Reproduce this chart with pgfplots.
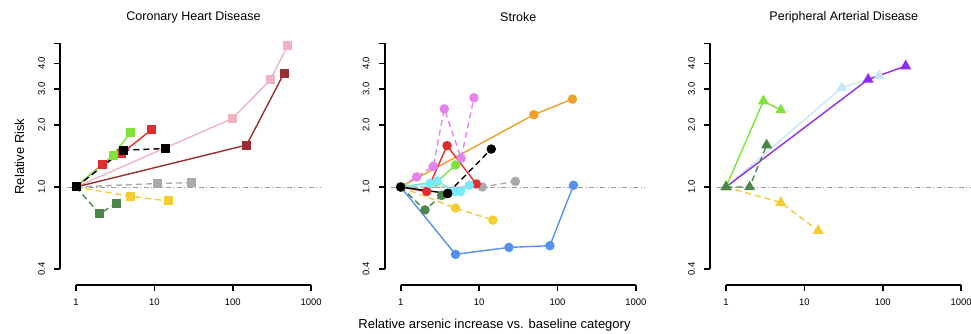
\documentclass[border=0pt]{standalone}
\usepackage{pgfplots}
\pgfplotsset{compat=1.18}
\usepackage{fontspec}
\setmainfont{Liberation Sans}
\definecolor{cpink}{RGB}{240,180,192}
\definecolor{cbrown}{RGB}{155,45,48}
\definecolor{cgreen}{RGB}{125,228,55}
\definecolor{cred}{RGB}{225,45,45}
\definecolor{cgray}{RGB}{170,170,170}
\definecolor{cyellow}{RGB}{245,205,50}
\definecolor{cdgreen}{RGB}{75,135,75}
\definecolor{corange}{RGB}{238,160,40}
\definecolor{cblue}{RGB}{85,145,240}
\definecolor{cviolet}{RGB}{230,130,235}
\definecolor{ccyan}{RGB}{120,235,255}
\definecolor{clblue}{RGB}{200,230,250}
\definecolor{cpurple}{RGB}{145,44,238}
\newcommand\fs{\fontsize{9.5}{11}\selectfont}
% frame of one panel, origin = pixel position of x=1
\newcommand\raxesat[1]{%
 \begin{scope}[xshift=#1pt, line width=1.6pt]
 \draw (-16pt,64.27pt) -- (-16pt,289.57pt);
 \draw (-16pt,64.27pt) -- ++(-6pt,0);
 \draw (-16pt,146pt) -- ++(-6pt,0);
 \draw (-16pt,207.83pt) -- ++(-6pt,0);
 \draw (-16pt,244pt) -- ++(-6pt,0);
 \draw (-16pt,269.66pt) -- ++(-6pt,0);
 \draw (-16pt,289.57pt) -- ++(-6pt,0);
 \node[rotate=90,font=\fs,inner sep=0pt] at (-34.5pt,64.27pt) {0.4};
 \node[rotate=90,font=\fs,inner sep=0pt] at (-34.5pt,146pt) {1.0};
 \node[rotate=90,font=\fs,inner sep=0pt] at (-34.5pt,207.83pt) {2.0};
 \node[rotate=90,font=\fs,inner sep=0pt] at (-34.5pt,244pt) {3.0};
 \node[rotate=90,font=\fs,inner sep=0pt] at (-34.5pt,269.66pt) {4.0};
 \draw (0pt,48.3pt) -- (235.2pt,48.3pt);
 \draw (0pt,48.3pt) -- ++(0,-6pt);
 \draw (78.4pt,48.3pt) -- ++(0,-6pt);
 \draw (156.8pt,48.3pt) -- ++(0,-6pt);
 \draw (235.2pt,48.3pt) -- ++(0,-6pt);
 \node[font=\fs,inner sep=0pt] at (0pt,30.8pt) {1};
 \node[font=\fs,inner sep=0pt] at (78.4pt,30.8pt) {10};
 \node[font=\fs,inner sep=0pt] at (156.8pt,30.8pt) {100};
 \node[font=\fs,inner sep=0pt] at (235.2pt,30.8pt) {1000};
 \end{scope}
}
\pgfplotsset{
 myref/.style={draw=gray!80, line width=0.8pt, dash pattern=on 5pt off 2.5pt on 1pt off 2.5pt, no marks},
 mysl/.style={line width=1.4pt, solid},
 mydl/.style={line width=1.4pt, dash pattern=on 6pt off 4pt},
 mysq/.style={mark=square*, mark size=3.8pt, mark options={solid, fill=#1, draw=#1}},
 myci/.style={mark=*, mark size=4pt, mark options={solid, fill=#1, draw=#1}},
 mytr/.style={mark=triangle*, mark size=5pt, mark options={solid, fill=#1, draw=#1}},
}
\begin{document}
\begin{tikzpicture}
\path[use as bounding box] (0,0) rectangle (971pt,333pt);
\raxesat{76}
\raxesat{400.7}
\raxesat{726}
% Panel 1
\begin{axis}[xmode=log, ymode=log, xmin=1, xmax=1000, ymin=0.4, ymax=5,
  scale only axis, width=235.2pt, height=225.3pt, hide axis, clip=false, anchor=south west, at={(76pt,64.27pt)}]
\addplot[myref] coordinates {(0.7586,1) (1318,1)};
\addplot[mysl, cpink, mysq=cpink] coordinates {(1,1) (100,2.16) (300,3.32) (500,4.87)};
\addplot[mysl, cbrown, mysq=cbrown] coordinates {(1,1) (150,1.6) (450,3.58)};
\addplot[mydl, cgray, mysq=cgray] coordinates {(1,1) (11,1.04) (30,1.05)};
\addplot[mydl, cyellow, mysq=cyellow] coordinates {(1,1) (5,0.9) (15,0.855)};
\addplot[mydl, cdgreen, mysq=cdgreen] coordinates {(1,1) (2,0.74) (3.3,0.835)};
\addplot[mysl, cred, mysq=cred] coordinates {(1,1) (2.17,1.29) (3.83,1.46) (9.2,1.9)};
\addplot[mysl, cgreen, mysq=cgreen] coordinates {(1,1) (3,1.43) (5,1.85)};
\addplot[mydl, black, mysq=black] coordinates {(1,1) (4,1.51) (14,1.54)};
\end{axis}
% Panel 2
\begin{axis}[xmode=log, ymode=log, xmin=1, xmax=1000, ymin=0.4, ymax=5,
  scale only axis, width=235.2pt, height=225.3pt, hide axis, clip=false, anchor=south west, at={(400.7pt,64.27pt)}]
\addplot[myref] coordinates {(0.7586,1) (1318,1)};
\addplot[mysl, corange, myci=corange] coordinates {(1,1) (50,2.25) (155,2.68)};
\addplot[mysl, cblue, myci=cblue] coordinates {(1,1) (5,0.47) (24,0.508) (80,0.518) (160,1.02)};
\addplot[mydl, cviolet, myci=cviolet] coordinates {(1,1) (1.6,1.12) (2.6,1.26) (3.6,2.4) (5.9,1.38) (8.6,2.72)};
\addplot[mydl, cgray, myci=cgray] coordinates {(1,1) (11,1.0) (29,1.065)};
\addplot[mydl, cyellow, myci=cyellow] coordinates {(1,1) (5,0.79) (15,0.69)};
\addplot[mydl, cdgreen, myci=cdgreen] coordinates {(1,1) (2.04,0.773) (3.33,0.91)};
\addplot[mysl, cred, myci=cred] coordinates {(1,1) (2.15,0.95) (3.9,1.59) (9.2,1.035)};
\addplot[mysl, cgreen, myci=cgreen] coordinates {(1,1) (2.9,1.06) (5,1.28)};
\addplot[mysl, ccyan, myci=ccyan] coordinates {(1,1) (2.35,1.04) (2.9,1.07) (4.9,0.95) (5.8,0.95) (7.5,1.02)};
\addplot[mydl, black, myci=black] coordinates {(3.97,0.93) (14.3,1.53)};
\addplot[mysl, black, myci=black] coordinates {(1,1) (3.97,0.93)};
\end{axis}
% Panel 3
\begin{axis}[xmode=log, ymode=log, xmin=1, xmax=1000, ymin=0.4, ymax=5,
  scale only axis, width=235.2pt, height=225.3pt, hide axis, clip=false, anchor=south west, at={(726pt,64.27pt)}]
\addplot[myref] coordinates {(0.7586,1) (1318,1)};
\addplot[mysl, clblue, mytr=clblue] coordinates {(1,1) (30,3.04) (90,3.48)};
\addplot[mysl, cpurple, mytr=cpurple] coordinates {(1,1) (65,3.34) (196,3.88)};
\addplot[mydl, cyellow, mytr=cyellow] coordinates {(1,1) (5,0.84) (15,0.613)};
\addplot[mysl, cgreen, mytr=cgreen] coordinates {(1,1) (3,2.62) (5,2.37)};
\addplot[mydl, cdgreen, mytr=cdgreen] coordinates {(1,1) (2,1.0) (3.3,1.6)};
\end{axis}
% Titles and labels
\node[font=\fontsize{12.5}{14}\selectfont] at (193.5pt,316pt) {Coronary Heart Disease};
\node[font=\fontsize{12.5}{14}\selectfont] at (518.3pt,316pt) {Stroke};
\node[font=\fontsize{12.5}{14}\selectfont] at (843.8pt,316pt) {Peripheral Arterial Disease};
\node[font=\fontsize{13}{15}\selectfont] at (494.5pt,8pt) {Relative arsenic increase vs. baseline category};
\node[font=\fontsize{13}{15}\selectfont, rotate=90] at (19.5pt,176.5pt) {Relative Risk};
\end{tikzpicture}
\end{document}
